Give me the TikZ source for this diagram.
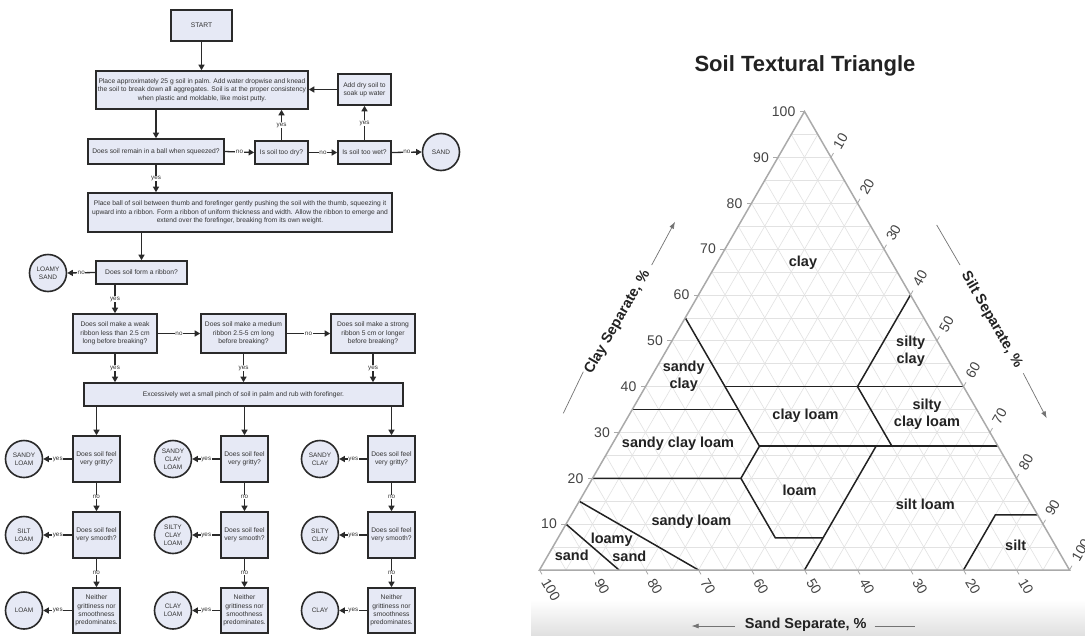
\documentclass[tikz,border=0pt]{standalone}
\usepackage{fontspec}
\setmainfont{Liberation Sans}
\usetikzlibrary{arrows.meta,shapes.geometric}
\definecolor{boxfill}{HTML}{E6E9F5}
\definecolor{boxline}{HTML}{2A2A2A}
\definecolor{txt}{HTML}{333333}
\definecolor{gridc}{HTML}{E2E2E2}
\definecolor{edgec}{HTML}{AAAAAA}
\definecolor{ticktxt}{HTML}{444444}
\definecolor{clstxt}{HTML}{222222}
\begin{document}
\begin{tikzpicture}[x=1pt,y=-1pt,
  fc/.style={font=\fontsize{6.7}{8.3}\selectfont, text=txt},
  box/.style={draw=boxline, line width=1.6pt, fill=boxfill, fc, align=center, inner sep=1pt},
  circ/.style={circle, draw=boxline, line width=1.6pt, fill=boxfill, minimum size=37pt, inner sep=0pt, align=center, font=\fontsize{6.5}{8}\selectfont, text=txt},
  arr/.style={draw=boxline, line width=1.3pt, -{Triangle[length=5.5pt,width=6pt]}},
  lab/.style={fill=white, inner sep=0.6pt, font=\fontsize{6.3}{7}\selectfont, text=txt},
  gridl/.style={draw=gridc, line width=0.6pt},
  tickl/.style={draw=edgec, line width=0.8pt},
  bnd/.style={draw=clstxt, line width=1.5pt},
  ticklab/.style={inner sep=0pt, text=ticktxt, font=\fontsize{14}{16}\selectfont},
  cls/.style={font=\bfseries\fontsize{14.5}{17}\selectfont, text=clstxt, align=center, inner sep=0pt},
  axt/.style={font=\bfseries\fontsize{14.5}{17}\selectfont, text=clstxt, inner sep=0pt},
  axl/.style={draw=black!55, line width=0.7pt},
  axa/.style={draw=black!55, line width=0.7pt, -{Latex[length=7pt,width=5pt]}}
]
\useasboundingbox (0,0) rectangle (1085,635);
\fill[white] (0,0) rectangle (1085,635);
\shade[top color=white, bottom color=black!12] (531,600) rectangle (1085,635);

% ---------------- Flowchart ----------------
\node[box, minimum width=61pt, minimum height=31pt] (start) at (201.5,25.5) {START};
\node[box, minimum width=212pt, minimum height=38pt] (pa) at (202,90)
  {Place approximately 25 g soil in palm. Add water dropwise and knead\\the soil to break down all aggregates. Soil is at the proper consistency\\when plastic and moldable, like moist putty.};
\node[box, minimum width=53pt, minimum height=31pt] (ad) at (364.5,89.5) {Add dry soil to\\soak up water};
\node[box, minimum width=136pt, minimum height=25pt] (rb) at (156,151.5) {Does soil remain in a ball when squeezed?};
\node[box, minimum width=53pt, minimum height=23pt] (td) at (281.5,152.5) {Is soil too dry?};
\node[box, minimum width=53pt, minimum height=23pt] (tw) at (364.5,152.5) {Is soil too wet?};
\node[circ] (sand) at (441,152) {SAND};
\node[box, minimum width=304pt, minimum height=39pt] (pb) at (240,212.5)
  {Place ball of soil between thumb and forefinger gently pushing the soil with the thumb, squeezing it\\upward into a ribbon. Form a ribbon of uniform thickness and width. Allow the ribbon to emerge and\\extend over the forefinger, breaking from its own weight.};
\node[box, minimum width=91pt, minimum height=23pt] (fr) at (141.5,272.5) {Does soil form a ribbon?};
\node[circ] (lsand) at (48,273) {LOAMY\\SAND};
\node[box, minimum width=84pt, minimum height=39pt] (wk) at (115,333.5) {Does soil make a weak\\ribbon less than 2.5 cm\\long before breaking?};
\node[box, minimum width=85pt, minimum height=39pt] (md) at (243.5,333.5) {Does soil make a medium\\ribbon 2.5-5 cm long\\before breaking?};
\node[box, minimum width=84pt, minimum height=39pt] (st) at (373,333.5) {Does soil make a strong\\ribbon 5 cm or longer\\before breaking?};
\node[box, minimum width=319pt, minimum height=23pt] (ex) at (243.5,394.5) {Excessively wet a small pinch of soil in palm and rub with forefinger.};

\foreach \n/\cx/\kx/\ga/\gb/\gc in {1/96.5/24/SANDY\\LOAM/SILT\\LOAM/LOAM,
                                   2/244.5/173/SANDY\\CLAY\\LOAM/SILTY\\CLAY\\LOAM/CLAY\\LOAM,
                                   3/391.5/320/SANDY\\CLAY/SILTY\\CLAY/CLAY}{
  \node[box, minimum width=47pt, minimum height=46pt] (g\n) at (\cx,459) {Does soil feel\\very gritty?};
  \node[box, minimum width=47pt, minimum height=46pt] (s\n) at (\cx,535) {Does soil feel\\very smooth?};
  \node[box, minimum width=47pt, minimum height=45pt] (n\n) at (\cx,610.5) {Neither\\grittiness nor\\smoothness\\predominates.};
  \node[circ] (cg\n) at (\kx,459) {\ga};
  \node[circ] (cs\n) at (\kx,535) {\gb};
  \node[circ] (cn\n) at (\kx,610.5) {\gc};
  \draw[arr] (g\n.north |- ex.south) -- (g\n.north);
  \draw[arr] (g\n.south) -- (s\n.north) node[lab, midway] {no};
  \draw[arr] (s\n.south) -- (n\n.north) node[lab, midway] {no};
  \draw[arr] (g\n.west) -- (cg\n.east) node[lab, midway] {yes};
  \draw[arr] (s\n.west) -- (cs\n.east) node[lab, midway] {yes};
  \draw[arr] (n\n.west) -- (cn\n.east) node[lab, midway] {yes};
}

\draw[arr] (start.south) -- (start.south |- pa.north);
\draw[arr] (rb.north |- pa.south) -- (rb.north);
\draw[arr] (rb.east) -- (td.west) node[lab, midway] {no};
\draw[arr] (td.east) -- (tw.west) node[lab, midway] {no};
\draw[arr] (tw.east) -- (sand.west) node[lab, midway] {no};
\draw[arr] (td.north) -- (td.north |- pa.south) node[lab, midway] {yes};
\draw[arr] (tw.north) -- (ad.south) node[lab, midway] {yes};
\draw[arr] (ad.west) -- (ad.west -| pa.east);
\draw[arr] (rb.south) -- (rb.south |- pb.north) node[lab, midway] {yes};
\draw[arr] (fr.north |- pb.south) -- (fr.north);
\draw[arr] (fr.west) -- (lsand.east) node[lab, midway] {no};
\draw[arr] (wk.north |- fr.south) -- (wk.north) node[lab, midway] {yes};
\draw[arr] (wk.east) -- (md.west) node[lab, midway] {no};
\draw[arr] (md.east) -- (st.west) node[lab, midway] {no};
\draw[arr] (wk.south) -- (wk.south |- ex.north) node[lab, midway] {yes};
\draw[arr] (md.south) -- (md.south |- ex.north) node[lab, midway] {yes};
\draw[arr] (st.south) -- (st.south |- ex.north) node[lab, midway] {yes};

% ---------------- Soil textural triangle ----------------
\node[font=\bfseries\fontsize{22}{26}\selectfont, text=clstxt, anchor=base, inner sep=0pt] (title) at (805,71.5) {Soil Textural Triangle};

\begin{scope}[shift={(539.5,570)}, x={(5.3pt,0pt)}, y={(2.65pt,4.585pt)}]
  \foreach \i in {5,10,...,95}{
    \draw[gridl] (0,\i) -- (100-\i,\i);
    \draw[gridl] (\i,0) -- (\i,100-\i);
    \draw[gridl] (\i,0) -- (0,\i);
  }
  \draw[bnd] (0,10) -- (15,0);
  \draw[bnd] (0,15) -- (30,0);
  \draw[bnd] (0,20) -- (28,20) -- (41,7) -- (50,7);
  \draw[bnd] (28,20) -- (28,27);
  \draw[bnd] (0,35) -- (20,35);
  \draw[bnd] (0,55) -- (28,27);
  \draw[bnd] (28,27) -- (73,27);
  \draw[bnd] (15,40) -- (60,40);
  \draw[bnd] (40,40) -- (40,60);
  \draw[bnd] (40,40) -- (53,27);
  \draw[bnd] (50,0) -- (50,27);
  \draw[bnd] (80,0) -- (80,12) -- (88,12);
  \draw[draw=edgec, line width=1.5pt, line join=miter] (0,0) -- (100,0) -- (0,100) -- cycle;
  \foreach \v in {10,20,...,100}{
    \draw[tickl] (0,\v) -- ++(-5pt,0pt);
    \draw[tickl] (\v,100-\v) -- ++(60:5pt);
    \draw[tickl] (100-\v,0) -- ++(-60:5pt);
    \node[ticklab, anchor=east, xshift=-9pt] (cl\v) at (0,\v) {\v};
    \node[ticklab, rotate=60, anchor=west, xshift=11pt] (sl\v) at (\v,100-\v) {\v};
    \node[ticklab, rotate=-60, anchor=west, xshift=11pt] (sd\v) at (100-\v,0) {\v};
  }
\end{scope}

\node[cls] (lclay) at (803,262.3) {clay};
\node[cls] (lsc) at (910.7,351.3) {silty\\clay};
\node[cls] (lsdc) at (683.7,376) {sandy\\clay};
\node[cls] (lcl) at (805.5,416) {clay loam};
\node[cls] (lscl) at (927,414.7) {silty\\clay loam};
\node[cls] (lsdcl) at (678,444) {sandy clay loam};
\node[cls] (lloam) at (799.6,490) {loam};
\node[cls] (lsl) at (925.3,504) {silt loam};
\node[cls] (lsdl) at (691.4,521.7) {sandy loam};
\node[cls] (lls1) at (611.7,540) {loamy};
\node[cls] (lls2) at (629.3,556) {sand};
\node[cls] (lsnd) at (571.7,555.7) {sand};
\node[cls] (lsilt) at (1015.7,545) {silt};

% axis titles
\node[axt, rotate=60] (tclay) at (617.5,322.3) {Clay Separate, \%};
\coordinate (ca1) at (563.3,413.3); \coordinate (ca2) at (583.3,371.7);
\coordinate (ca3) at (651.7,265); \coordinate (ca4) at (675,221.7);
\draw[axl] (ca1) -- (ca2);
\draw[axa] (ca3) -- (ca4);

\node[axt, rotate=-60] (tsilt) at (991.7,320) {Silt Separate, \%};
\coordinate (sa1) at (936.7,225); \coordinate (sa2) at (960,265);
\coordinate (sa3) at (1023.3,373.3); \coordinate (sa4) at (1046.7,418.3);
\draw[axl] (sa1) -- (sa2);
\draw[axa] (sa3) -- (sa4);

\node[axt] (tsand) at (805.8,625) {Sand Separate, \%};
\coordinate (da1) at (735,626); \coordinate (da2) at (691.6,626);
\coordinate (da3) at (874.5,626); \coordinate (da4) at (914.6,626);
\draw[axa] (da1) -- (da2);
\draw[axl] (da3) -- (da4);
\end{tikzpicture}
\end{document}
